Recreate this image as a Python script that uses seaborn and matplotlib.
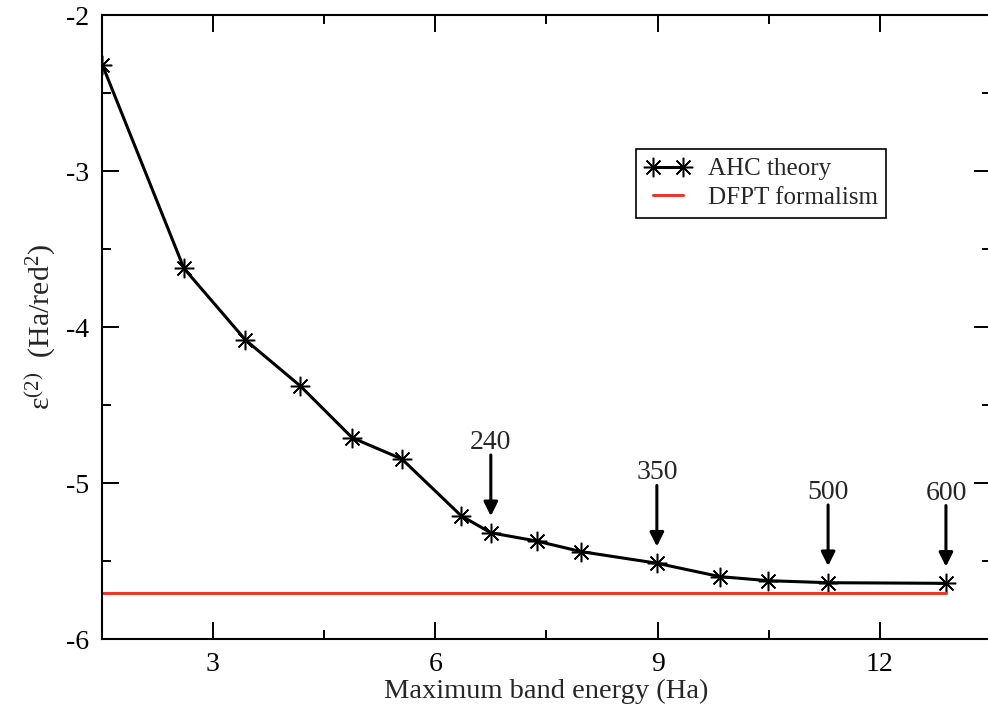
import matplotlib
matplotlib.use("Agg")
import matplotlib.pyplot as plt
import seaborn as sns
import pandas as pd
from matplotlib.ticker import MultipleLocator

# ---- data ----
band_energy = [1.51, 2.61, 3.44, 4.18, 4.88, 5.55, 6.35, 6.75, 7.37, 7.97,
               8.99, 9.84, 10.49, 11.30, 12.89]
eps2 = [-2.32, -3.624, -4.083, -4.378, -4.710, -4.846, -5.210, -5.319, -5.372,
        -5.440, -5.514, -5.600, -5.626, -5.639, -5.643]
dfpt_value = -5.702
ann_labels = ["240", "350", "500", "600"]
ann_index = [7, 10, 13, 14]
series_labels = ["AHC theory", "DFPT formalism"]
x_ticks = [3, 6, 9, 12]
y_ticks = [-6, -5, -4, -3, -2]

sns.set_theme(style="ticks")
plt.rcParams["font.family"] = ["Liberation Serif", "DejaVu Serif"]
plt.rcParams["mathtext.fontset"] = "custom"
plt.rcParams["mathtext.rm"] = "Liberation Serif"
plt.rcParams["mathtext.it"] = "Liberation Serif:italic"
plt.rcParams["axes.unicode_minus"] = False

df = pd.DataFrame({"x": band_energy, "y": eps2})
df_ref = pd.DataFrame({"x": [band_energy[0], band_energy[-1]],
                       "y": [dfpt_value, dfpt_value]})

fig = plt.figure(figsize=(9.88, 7.09), dpi=100)
ax = fig.add_axes([0.1029, 0.0987, 0.9003, 0.8801])

sns.lineplot(data=df, x="x", y="y", ax=ax, color="black", lw=2.2,
             marker=(8, 2, 0), markersize=14, markeredgewidth=1.1,
             markeredgecolor="black", label=series_labels[0])
sns.lineplot(data=df_ref, x="x", y="y", ax=ax, color="#e8372b", lw=2.2,
             label=series_labels[1])

ax.set_xlim(1.5, 13.5)
ax.set_ylim(-6, -2)
ax.set_xticks(x_ticks)
ax.set_yticks(y_ticks)
ax.set_xticklabels([str(t) for t in x_ticks])
ax.set_yticklabels([str(t) for t in y_ticks])
ax.xaxis.set_minor_locator(MultipleLocator(1.5))
ax.yaxis.set_minor_locator(MultipleLocator(0.5))
ax.tick_params(which="both", direction="in", top=True, right=True,
               width=1.4, colors="black")
ax.tick_params(which="major", length=12.5, labelsize=20, pad=9)
ax.tick_params(which="minor", length=6.5)
for s in ax.spines.values():
    s.set_linewidth(1.5)
    s.set_color("black")
ax.spines["right"].set_visible(False)

ax.set_xlabel("Maximum band energy (Ha)", fontsize=20.5, labelpad=2)
ax.set_ylabel(r"ε$^{\mathrm{(2)}}$  (Ha/red$^{\mathrm{2}}$)", fontsize=21.5)
ax.yaxis.set_label_coords(-0.049, 0.5)

for lab, i in zip(ann_labels, ann_index):
    ax.annotate("",
                xy=(band_energy[i], eps2[i]), xytext=(0, 56),
                textcoords="offset points",
                arrowprops=dict(arrowstyle="-|>,head_length=0.7,head_width=0.35",
                                color="black", lw=2.2, shrinkA=0, shrinkB=12))
    ax.annotate(lab, xy=(band_energy[i], eps2[i]), xytext=(0, 65),
                textcoords="offset points", ha="center", va="center",
                fontsize=20)

leg = ax.legend(loc="upper left", bbox_to_anchor=(0.601, 0.785),
                borderaxespad=0, fontsize=18, numpoints=2, handlelength=1.8,
                handletextpad=0.7, frameon=True, fancybox=False,
                edgecolor="black", framealpha=1, borderpad=0.35,
                labelspacing=0.25)
leg.get_frame().set_linewidth(1.2)

fig.savefig("out.png", dpi=100)
